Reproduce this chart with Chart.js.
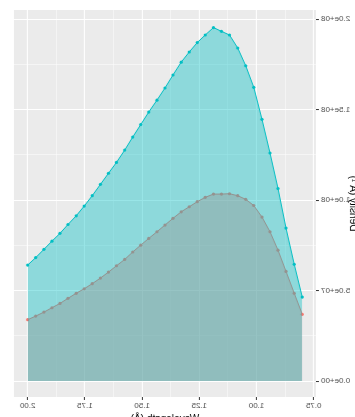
<!DOCTYPE html>
<html lang="en">
<head>
  <meta charset="UTF-8" />
  <title>Density by Wavelength</title>
  <script src="https://cdn.jsdelivr.net/npm/chart.js"></script>
  <style>
    html, body { margin: 0; padding: 0; background: #fff; overflow: hidden; }
    #wrap { position: relative; width: 355px; height: 417px; overflow: hidden; }
    /* the reference is a mirror image, so the whole chart is flipped */
    #box { position: absolute; left: 0; top: 0; width: 359px; height: 425px; transform: scaleX(-1); }
  </style>
</head>
<body>
  <div id="wrap"><div id="box"><canvas id="chart"></canvas></div></div>

  <script>
    const wavelength = [2.000, 1.965, 1.929, 1.894, 1.859, 1.824, 1.788, 1.753, 1.718, 1.682,
                        1.647, 1.612, 1.576, 1.541, 1.506, 1.471, 1.435, 1.400, 1.365, 1.329,
                        1.294, 1.259, 1.224, 1.188, 1.153, 1.118, 1.082, 1.047, 1.012, 0.976,
                        0.941, 0.906, 0.871, 0.835, 0.800];

    const densityCyan = [6.41e7, 6.82e7, 7.28e7, 7.73e7, 8.16e7, 8.65e7, 9.13e7, 9.67e7, 1.024e8, 1.087e8,
                         1.148e8, 1.208e8, 1.276e8, 1.348e8, 1.417e8, 1.486e8, 1.552e8, 1.619e8, 1.691e8, 1.762e8,
                         1.818e8, 1.870e8, 1.912e8, 1.953e8, 1.932e8, 1.912e8, 1.840e8, 1.742e8, 1.623e8, 1.446e8,
                         1.260e8, 1.064e8, 8.45e7, 6.45e7, 4.64e7];

    const densityRed = [3.39e7, 3.59e7, 3.81e7, 4.05e7, 4.29e7, 4.57e7, 4.85e7, 5.10e7, 5.38e7, 5.69e7,
                        6.02e7, 6.37e7, 6.72e7, 7.13e7, 7.51e7, 7.88e7, 8.25e7, 8.62e7, 8.99e7, 9.35e7,
                        9.63e7, 9.91e7, 1.015e8, 1.033e8, 1.033e8, 1.035e8, 1.024e8, 1.004e8, 9.70e7, 9.06e7,
                        8.25e7, 7.23e7, 6.06e7, 4.85e7, 3.69e7];

    const xTicks = [0.75, 0.875, 1.0, 1.125, 1.25, 1.375, 1.5, 1.625, 1.75, 1.875, 2.0];
    const xMajor = [0.75, 1.0, 1.25, 1.5, 1.75, 2.0];
    const yTicks = [0, 2.5e7, 5e7, 7.5e7, 1e8, 1.25e8, 1.5e8, 1.75e8, 2e8];
    const yMajor = [0, 5e7, 1e8, 1.5e8, 2e8];

    const font = "'Liberation Sans', Arial, sans-serif";

    const isMajor = (list, v) => list.some(m => Math.abs(m - v) < 1e-9);

    const panelBg = {
      id: 'panelBg',
      beforeDraw(chart) {
        const a = chart.chartArea;
        const ctx = chart.ctx;
        ctx.save();
        ctx.fillStyle = '#EBEBEB';
        ctx.fillRect(a.left, a.top, a.right - a.left, a.bottom - a.top);
        ctx.restore();
      }
    };

    function sciLabel(v) {
      let s = Number(v).toExponential(1);
      return s.replace(/e([+-])(\d)$/, 'e$10$2');
    }

    new Chart(document.getElementById('chart'), {
      type: 'line',
      data: {
        datasets: [
          {
            label: 'cyan',
            data: wavelength.map((w, i) => ({ x: w, y: densityCyan[i] })),
            borderColor: '#00BFC4',
            backgroundColor: 'rgba(0,191,196,0.4)',
            pointBackgroundColor: '#00BFC4',
            pointBorderColor: '#00BFC4',
            fill: 'origin',
            order: 0
          },
          {
            label: 'red',
            data: wavelength.map((w, i) => ({ x: w, y: densityRed[i] })),
            borderColor: '#F8766D',
            backgroundColor: 'rgba(248,118,109,0.4)',
            pointBackgroundColor: '#F8766D',
            pointBorderColor: '#F8766D',
            fill: 'origin',
            order: 1
          }
        ]
      },
      options: {
        responsive: true,
        maintainAspectRatio: false,
        animation: false,
        layout: { padding: { top: 10, right: 14, bottom: 0, left: 0 } },
        elements: {
          line: { borderWidth: 1, tension: 0 },
          point: { radius: 1.6, borderWidth: 0, hoverRadius: 1.6 }
        },
        plugins: {
          legend: { display: false },
          tooltip: { enabled: false }
        },
        scales: {
          x: {
            type: 'linear',
            min: 0.74,
            max: 2.06,
            afterBuildTicks: s => { s.ticks = xTicks.map(v => ({ value: v })); },
            afterFit: s => { s.height = 28; },
            border: { display: false },
            grid: {
              color: '#FFFFFF',
              lineWidth: c => isMajor(xMajor, c.tick.value) ? 1.1 : 0.5,
              tickColor: c => isMajor(xMajor, c.tick.value) ? '#333333' : 'rgba(0,0,0,0)',
              tickLength: 3,
              tickWidth: 1
            },
            ticks: {
              autoSkip: false,
              maxRotation: 0,
              padding: 1,
              color: '#4D4D4D',
              font: { family: font, size: 8 },
              callback: v => isMajor(xMajor, v) ? v.toFixed(2) : ''
            },
            title: {
              display: true,
              text: 'Wavelength (Å)',
              color: '#000000',
              font: { family: font, size: 10 },
              padding: { top: 0, bottom: 0 }
            }
          },
          y: {
            type: 'linear',
            min: -8.8e6,
            max: 2.05e8,
            afterBuildTicks: s => { s.ticks = yTicks.map(v => ({ value: v })); },
            afterFit: s => { s.width = 43; },
            border: { display: false },
            grid: {
              color: '#FFFFFF',
              lineWidth: c => isMajor(yMajor, c.tick.value) ? 1.1 : 0.5,
              tickColor: c => isMajor(yMajor, c.tick.value) ? '#333333' : 'rgba(0,0,0,0)',
              tickLength: 3,
              tickWidth: 1
            },
            ticks: {
              autoSkip: false,
              padding: 2,
              color: '#4D4D4D',
              font: { family: font, size: 8 },
              callback: v => isMajor(yMajor, v) ? sciLabel(v) : ''
            },
            title: {
              display: true,
              text: 'Density (Å⁻¹)',
              color: '#000000',
              font: { family: font, size: 10 },
              padding: { top: 0, bottom: 0 }
            }
          }
        }
      },
      plugins: [panelBg]
    });
  </script>
</body>
</html>
